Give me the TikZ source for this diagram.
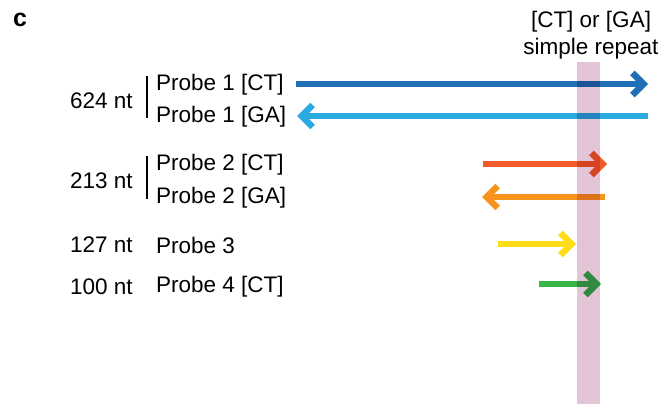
\documentclass[tikz,border=0pt]{standalone}
\usepackage{fontspec}
\setmainfont{Liberation Sans}
\usetikzlibrary{arrows.meta}
\definecolor{pdark}{HTML}{1E6FB5}
\definecolor{plight}{HTML}{29ABE2}
\definecolor{pred}{HTML}{F15A29}
\definecolor{porange}{HTML}{F7941E}
\definecolor{pyellow}{HTML}{FFDE17}
\definecolor{pgreen}{HTML}{39B54A}
\definecolor{repeatband}{HTML}{E3C3D6}
\tikzset{
  lbl/.style={anchor=west, inner sep=0pt, font=\fontsize{22.5}{27}\selectfont},
  probe/.style={line width=6pt, -{Straight Barb[length=11pt, width=22pt, line width=6.5pt, sharp]}},
  bracket/.style={line width=1.6pt, black},
}
\begin{document}
\begin{tikzpicture}[x=1pt, y=-1pt]
\useasboundingbox (0,0) rectangle (669,404);

% panel letter and repeat heading
\node[anchor=west, inner sep=0pt, font=\fontsize{25}{30}\selectfont\bfseries] (panel) at (13,20) {c};
\node[inner sep=0pt, align=center, font=\fontsize{22.5}{27}\selectfont] (head) at (591,35) {[CT] or [GA]\\simple repeat};

% probe lengths
\node[lbl] (n1) at (70,101) {624 nt};
\node[lbl] (n2) at (70,181) {213 nt};
\node[lbl] (n3) at (70,245) {127 nt};
\node[lbl] (n4) at (70,287) {100 nt};

% probe names
\node[lbl] (p1ct) at (156,85) {Probe 1 [CT]};
\node[lbl] (p1ga) at (156,117) {Probe 1 [GA]};
\node[lbl] (p2ct) at (156,165) {Probe 2 [CT]};
\node[lbl] (p2ga) at (156,198) {Probe 2 [GA]};
\node[lbl] (p3) at (156,245) {Probe 3};
\node[lbl] (p4ct) at (156,287) {Probe 4 [CT]};

% strand brackets
\coordinate (b1t) at (147,76);
\coordinate (b1b) at (147,118);
\coordinate (b2t) at (147,156);
\coordinate (b2b) at (147,199);
\draw[bracket] (b1t) -- (b1b);
\draw[bracket] (b2t) -- (b2b);

% probe arrows
\coordinate (a1s) at (296,84);  \coordinate (a1e) at (648,84);
\coordinate (a2s) at (648,116); \coordinate (a2e) at (297,116);
\coordinate (a3s) at (483,164); \coordinate (a3e) at (607,164);
\coordinate (a4s) at (605,197); \coordinate (a4e) at (482,197);
\coordinate (a5s) at (498,244); \coordinate (a5e) at (576,244);
\coordinate (a6s) at (539,284); \coordinate (a6e) at (601,284);
\draw[probe, pdark] (a1s) -- (a1e);
\draw[probe, plight] (a2s) -- (a2e);
\draw[probe, pred] (a3s) -- (a3e);
\draw[probe, porange] (a4s) -- (a4e);
\draw[probe, pyellow] (a5s) -- (a5e);
\draw[probe, pgreen] (a6s) -- (a6e);

% repeat region band
\begin{scope}[blend mode=multiply]
\fill[repeatband] (577,62) rectangle (600,404);
\end{scope}
\end{tikzpicture}
\end{document}
